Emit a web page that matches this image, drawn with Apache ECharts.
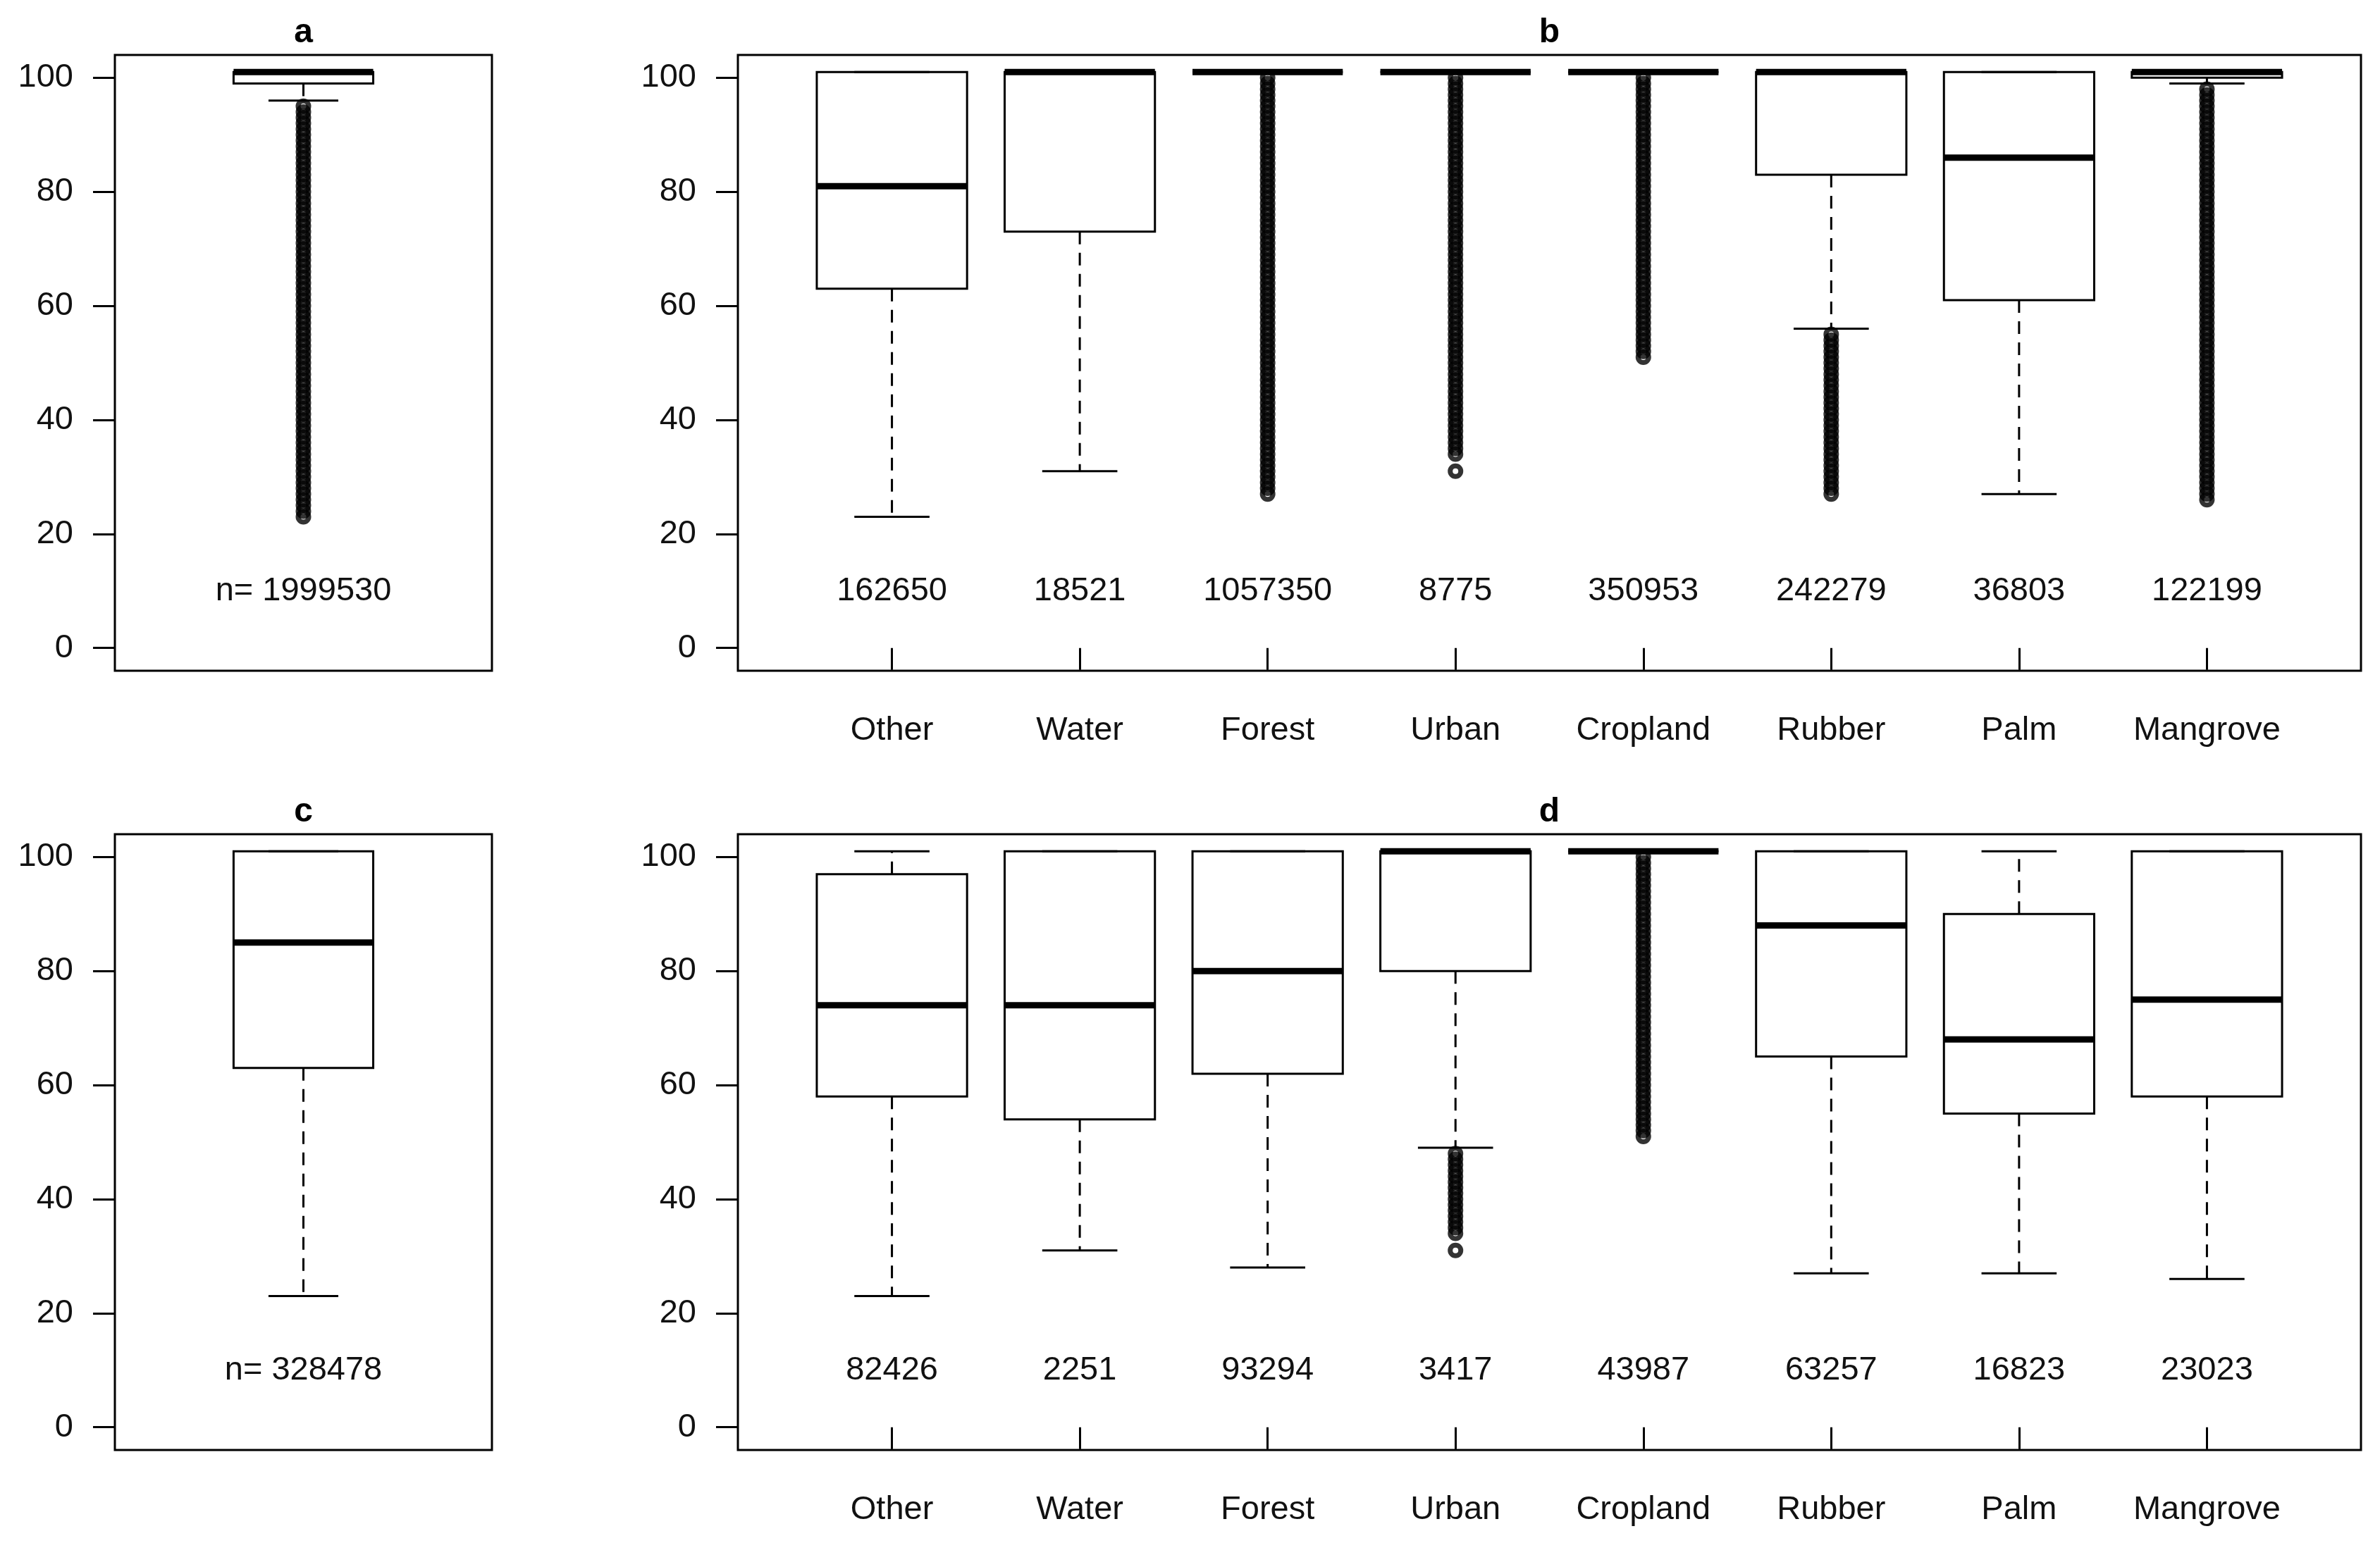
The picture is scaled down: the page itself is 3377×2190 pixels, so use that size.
<!DOCTYPE html>
<html>
<head>
<meta charset="utf-8">
<title>Boxplots by land cover</title>
<script src="https://cdn.jsdelivr.net/npm/echarts@6/dist/echarts.min.js"></script>
<style>
  html, body { margin: 0; padding: 0; background: #fff; }
  #chart-panel { width: 3377px; height: 2190px; }
</style>
</head>
<body>
<div id="chart-panel"></div>
<script>
var landCover = ['Other', 'Water', 'Forest', 'Urban', 'Cropland', 'Rubber', 'Palm', 'Mangrove'];
var yTicks = [0, 20, 40, 60, 80, 100];

// each box: [lower whisker, Q1, median, Q3, upper whisker]
var boxA = [[96, 99, 101, 101, 101]];
var countA = ['n= 1999530'];
var outA = [
  [23, 24, 25, 26, 27, 28, 29, 30, 31, 32, 33, 34, 35, 36, 37, 38, 39, 40, 41, 42, 43, 44, 45, 46, 47, 48, 49, 50,
   51, 52, 53, 54, 55, 56, 57, 58, 59, 60, 61, 62, 63, 64, 65, 66, 67, 68, 69, 70, 71, 72, 73, 74, 75, 76, 77, 78,
   79, 80, 81, 82, 83, 84, 85, 86, 87, 88, 89, 90, 91, 92, 93, 94, 95]
];

var boxB = [
  [23, 63, 81, 101, 101],
  [31, 73, 101, 101, 101],
  [101, 101, 101, 101, 101],
  [101, 101, 101, 101, 101],
  [101, 101, 101, 101, 101],
  [56, 83, 101, 101, 101],
  [27, 61, 86, 101, 101],
  [99, 100, 101, 101, 101]
];
var countB = [162650, 18521, 1057350, 8775, 350953, 242279, 36803, 122199];
var outB = [
  [],
  [],
  [27, 28, 29, 30, 31, 32, 33, 34, 35, 36, 37, 38, 39, 40, 41, 42, 43, 44, 45, 46, 47, 48, 49, 50, 51, 52, 53, 54,
   55, 56, 57, 58, 59, 60, 61, 62, 63, 64, 65, 66, 67, 68, 69, 70, 71, 72, 73, 74, 75, 76, 77, 78, 79, 80, 81, 82,
   83, 84, 85, 86, 87, 88, 89, 90, 91, 92, 93, 94, 95, 96, 97, 98, 99, 100],
  [31, 34, 35, 36, 37, 38, 39, 40, 41, 42, 43, 44, 45, 46, 47, 48, 49, 50, 51, 52, 53, 54, 55, 56, 57, 58, 59, 60,
   61, 62, 63, 64, 65, 66, 67, 68, 69, 70, 71, 72, 73, 74, 75, 76, 77, 78, 79, 80, 81, 82, 83, 84, 85, 86, 87, 88,
   89, 90, 91, 92, 93, 94, 95, 96, 97, 98, 99, 100],
  [51, 52, 53, 54, 55, 56, 57, 58, 59, 60, 61, 62, 63, 64, 65, 66, 67, 68, 69, 70, 71, 72, 73, 74, 75, 76, 77, 78,
   79, 80, 81, 82, 83, 84, 85, 86, 87, 88, 89, 90, 91, 92, 93, 94, 95, 96, 97, 98, 99, 100],
  [27, 28, 29, 30, 31, 32, 33, 34, 35, 36, 37, 38, 39, 40, 41, 42, 43, 44, 45, 46, 47, 48, 49, 50, 51, 52, 53, 54, 55],
  [],
  [26, 27, 28, 29, 30, 31, 32, 33, 34, 35, 36, 37, 38, 39, 40, 41, 42, 43, 44, 45, 46, 47, 48, 49, 50, 51, 52, 53,
   54, 55, 56, 57, 58, 59, 60, 61, 62, 63, 64, 65, 66, 67, 68, 69, 70, 71, 72, 73, 74, 75, 76, 77, 78, 79, 80, 81,
   82, 83, 84, 85, 86, 87, 88, 89, 90, 91, 92, 93, 94, 95, 96, 97, 98]
];

var boxC = [[23, 63, 85, 101, 101]];
var countC = ['n= 328478'];
var outC = [[]];

var boxD = [
  [23, 58, 74, 97, 101],
  [31, 54, 74, 101, 101],
  [28, 62, 80, 101, 101],
  [49, 80, 101, 101, 101],
  [101, 101, 101, 101, 101],
  [27, 65, 88, 101, 101],
  [27, 55, 68, 90, 101],
  [26, 58, 75, 101, 101]
];
var countD = [82426, 2251, 93294, 3417, 43987, 63257, 16823, 23023];
var outD = [
  [],
  [],
  [],
  [31, 34, 35, 36, 37, 38, 39, 40, 41, 42, 43, 44, 45, 46, 47, 48],
  [51, 52, 53, 54, 55, 56, 57, 58, 59, 60, 61, 62, 63, 64, 65, 66, 67, 68, 69, 70, 71, 72, 73, 74, 75, 76, 77, 78,
   79, 80, 81, 82, 83, 84, 85, 86, 87, 88, 89, 90, 91, 92, 93, 94, 95, 96, 97, 98, 99, 100],
  [],
  [],
  []
];

var font = '"Liberation Sans", Arial, Helvetica, sans-serif';
var ink = '#000';
var countY = 10;

// panel frames in pixels
var panels = [
  { name: 'a', left: 163, top: 78, width: 535, boxes: boxA, counts: countA, outs: outA, boxW: 0.4, labels: null },
  { name: 'b', left: 1047, top: 78, width: 2303, boxes: boxB, counts: countB, outs: outB, boxW: 0.8, labels: landCover },
  { name: 'c', left: 163, top: 1184, width: 535, boxes: boxC, counts: countC, outs: outC, boxW: 0.4, labels: null },
  { name: 'd', left: 1047, top: 1184, width: 2303, boxes: boxD, counts: countD, outs: outD, boxW: 0.8, labels: landCover }
];
var panelHeight = 874;

function boxRenderer(counts, boxW) {
  return function (params, api) {
    var x = api.value(0);
    var half = api.size([boxW, 0])[0] / 2;
    var cx = api.coord([x, 0])[0];
    var lo = api.coord([x, api.value(1)])[1];
    var q1 = api.coord([x, api.value(2)])[1];
    var med = api.coord([x, api.value(3)])[1];
    var q3 = api.coord([x, api.value(4)])[1];
    var hi = api.coord([x, api.value(5)])[1];
    var ty = api.coord([x, countY])[1];
    var dash = { stroke: ink, lineWidth: 3, lineDash: [18, 12] };
    var solid = { stroke: ink, lineWidth: 3 };
    return {
      type: 'group',
      children: [
        { type: 'line', shape: { x1: cx, y1: q1, x2: cx, y2: lo }, style: dash },
        { type: 'line', shape: { x1: cx, y1: q3, x2: cx, y2: hi }, style: dash },
        { type: 'line', shape: { x1: cx - half / 2, y1: lo, x2: cx + half / 2, y2: lo }, style: solid },
        { type: 'line', shape: { x1: cx - half / 2, y1: hi, x2: cx + half / 2, y2: hi }, style: solid },
        { type: 'rect', shape: { x: cx - half, y: q3, width: half * 2, height: q1 - q3 },
          style: { fill: 'none', stroke: ink, lineWidth: 3 } },
        { type: 'line', shape: { x1: cx - half, y1: med, x2: cx + half, y2: med },
          style: { stroke: ink, lineWidth: 9, lineCap: 'butt' } },
        { type: 'text', style: { text: String(counts[params.dataIndex]), x: cx, y: ty,
          align: 'center', verticalAlign: 'middle', font: '47px ' + font, fill: '#111' } }
      ]
    };
  };
}

function outlierPoints(outs) {
  var pts = [];
  outs.forEach(function (vals, i) {
    vals.forEach(function (v) { pts.push([i + 1, v]); });
  });
  return pts;
}

var grids = [], xAxes = [], yAxes = [], series = [], titles = [];

panels.forEach(function (p, k) {
  var n = p.boxes.length;
  var catTicks = p.boxes.map(function (b, i) { return i + 1; });
  grids.push({ left: p.left, top: p.top, width: p.width, height: panelHeight,
    show: true, borderColor: ink, borderWidth: 3, backgroundColor: 'transparent' });
  xAxes.push({
    type: 'value', gridIndex: k,
    min: 0.5 - 0.04 * n, max: n + 0.5 + 0.04 * n,
    splitLine: { show: false },
    axisLine: { show: false },
    axisTick: { show: !!p.labels, customValues: catTicks, length: 31, lineStyle: { color: ink, width: 3 } },
    axisLabel: {
      show: !!p.labels, customValues: catTicks, margin: 62,
      fontSize: 47, fontFamily: font, color: '#111',
      formatter: function (v) { return p.labels ? p.labels[Math.round(v) - 1] : ''; }
    }
  });
  yAxes.push({
    type: 'value', gridIndex: k, min: -4, max: 104,
    splitLine: { show: false },
    axisLine: { show: false },
    axisTick: { show: true, customValues: yTicks, length: 31, lineStyle: { color: ink, width: 3 } },
    axisLabel: { customValues: yTicks, margin: 59, fontSize: 47, fontFamily: font, color: '#111' }
  });
  series.push({
    type: 'scatter', xAxisIndex: k, yAxisIndex: k,
    data: outlierPoints(p.outs),
    symbol: 'circle', symbolSize: 15, silent: true,
    itemStyle: { color: 'rgba(0,0,0,0)', borderColor: ink, borderWidth: 7 },
    z: 2
  });
  series.push({
    type: 'custom', xAxisIndex: k, yAxisIndex: k,
    data: p.boxes.map(function (b, i) { return [i + 1].concat(b); }),
    encode: { x: 0, y: [1, 2, 3, 4, 5] },
    renderItem: boxRenderer(p.counts, p.boxW),
    silent: true, z: 3
  });
  titles.push({
    type: 'text', x: p.left + p.width / 2, y: p.top - 31,
    style: { text: p.name, font: 'bold 48px ' + font, fill: ink, align: 'center', verticalAlign: 'middle' }
  });
});

var option = {
  animation: false,
  backgroundColor: '#fff',
  grid: grids,
  xAxis: xAxes,
  yAxis: yAxes,
  series: series,
  graphic: titles
};

var chart = echarts.init(document.getElementById('chart-panel'));
chart.setOption(option);
</script>
</body>
</html>
